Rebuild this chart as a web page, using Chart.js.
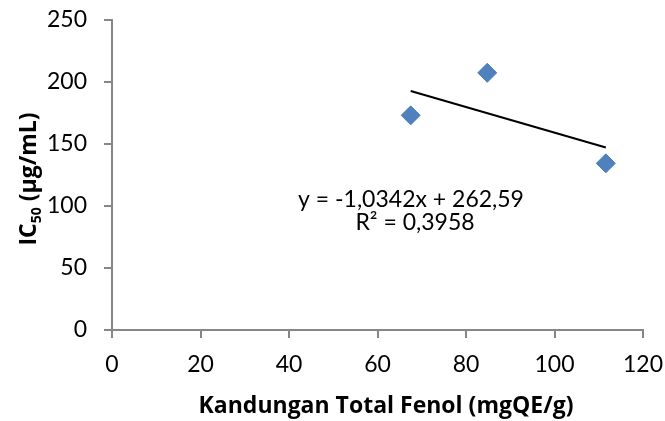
<!DOCTYPE html>
<html>
<head>
<meta charset="utf-8">
<script src="https://cdn.jsdelivr.net/npm/chart.js"></script>
<style>
    body { margin: 0; background: #fff; }
</style>
</head>
<body>
<canvas id="fenolChart" width="665" height="421"></canvas>
<script>
// data
const fenol = [67.5, 84.8, 111.6];
const ic50 = [173.1, 207.4, 134.4];
const xTicks = [0, 20, 40, 60, 80, 100, 120];
const yTicks = [0, 50, 100, 150, 200, 250];
const slope = [-1.0342];
const intercept = [262.59];
const equationLines = ['y = -1,0342x + 262,59', 'R² = 0,3958'];

const points = fenol.map((x, i) => ({ x: x, y: ic50[i] }));

// trendline from the printed equation, across the data range
const xMin = Math.min(...fenol);
const xMax = Math.max(...fenol);
const trend = [
    { x: xMin, y: slope[0] * xMin + intercept[0] },
    { x: xMax, y: slope[0] * xMax + intercept[0] }
];

const FONT = 'Lato';
const TITLE_FONT = '"Open Sans"';
const axisColor = '#868686';

// axis titles and equation label
const labelsPlugin = {
    id: 'labels',
    afterDraw(chart) {
        const ctx = chart.ctx;
        ctx.save();
        ctx.fillStyle = '#000';

        // x title
        ctx.font = 'bold 23px ' + TITLE_FONT;
        ctx.textAlign = 'center';
        ctx.textBaseline = 'alphabetic';
        ctx.fillText('Kandungan Total Fenol (mgQE/g)', 386, 413);

        // y title with subscript
        const parts = [
            { text: 'IC', size: 23, shift: 0 },
            { text: '50', size: 14, shift: 5 },
            { text: ' (µg/mL)', size: 23, shift: 0 }
        ];
        let total = 0;
        parts.forEach(p => {
            ctx.font = 'bold ' + p.size + 'px ' + TITLE_FONT;
            p.w = ctx.measureText(p.text).width;
            total += p.w;
        });
        ctx.translate(36, 179);
        ctx.rotate(-Math.PI / 2);
        ctx.textAlign = 'left';
        let pos = -total / 2;
        parts.forEach(p => {
            ctx.font = 'bold ' + p.size + 'px ' + TITLE_FONT;
            ctx.fillText(p.text, pos, p.shift);
            pos += p.w;
        });
        ctx.restore();

        // regression equation
        ctx.save();
        ctx.fillStyle = '#000';
        ctx.font = '23px ' + FONT;
        ctx.textAlign = 'center';
        ctx.textBaseline = 'alphabetic';
        ctx.fillText(equationLines[0], 411, 207);
        ctx.fillText(equationLines[1], 415, 230);
        ctx.restore();
    }
};

const ctx = document.getElementById('fenolChart');

new Chart(ctx, {
    type: 'scatter',
    data: {
        datasets: [{
            label: 'IC50',
            data: points,
            pointStyle: 'rectRot',
            pointRadius: 9.5,
            pointHoverRadius: 9.5,
            backgroundColor: '#4F81BD',
            borderColor: '#4A7EBB',
            borderWidth: 1
        }, {
            type: 'line',
            label: 'Linear',
            data: trend,
            borderColor: '#000',
            borderWidth: 2,
            pointRadius: 0,
            fill: false
        }]
    },
    options: {
        responsive: false,
        animation: false,
        layout: {
            padding: { top: 20, right: 22, left: 0, bottom: 0 }
        },
        plugins: {
            legend: { display: false },
            tooltip: { enabled: false }
        },
        scales: {
            x: {
                type: 'linear',
                min: 0,
                max: 120,
                afterBuildTicks: scale => {
                    scale.ticks = xTicks.map(v => ({ value: v }));
                },
                afterFit: scale => {
                    scale.height = 91;
                    scale.paddingLeft = 0;
                    scale.paddingRight = 0;
                },
                grid: {
                    drawOnChartArea: false,
                    drawTicks: true,
                    tickLength: 8,
                    color: axisColor,
                    lineWidth: 2
                },
                border: { color: axisColor, width: 2 },
                ticks: {
                    color: '#000',
                    padding: 13,
                    font: { family: FONT, size: 23 }
                }
            },
            y: {
                min: 0,
                max: 250,
                afterBuildTicks: scale => {
                    scale.ticks = yTicks.map(v => ({ value: v }));
                },
                afterFit: scale => {
                    scale.width = 112;
                    scale.paddingTop = 0;
                    scale.paddingBottom = 0;
                },
                grid: {
                    drawOnChartArea: false,
                    drawTicks: true,
                    tickLength: 8,
                    color: axisColor,
                    lineWidth: 2
                },
                border: { color: axisColor, width: 2 },
                ticks: {
                    color: '#000',
                    padding: 17,
                    font: { family: FONT, size: 23 }
                }
            }
        }
    },
    plugins: [labelsPlugin]
});
</script>
</body>
</html>
